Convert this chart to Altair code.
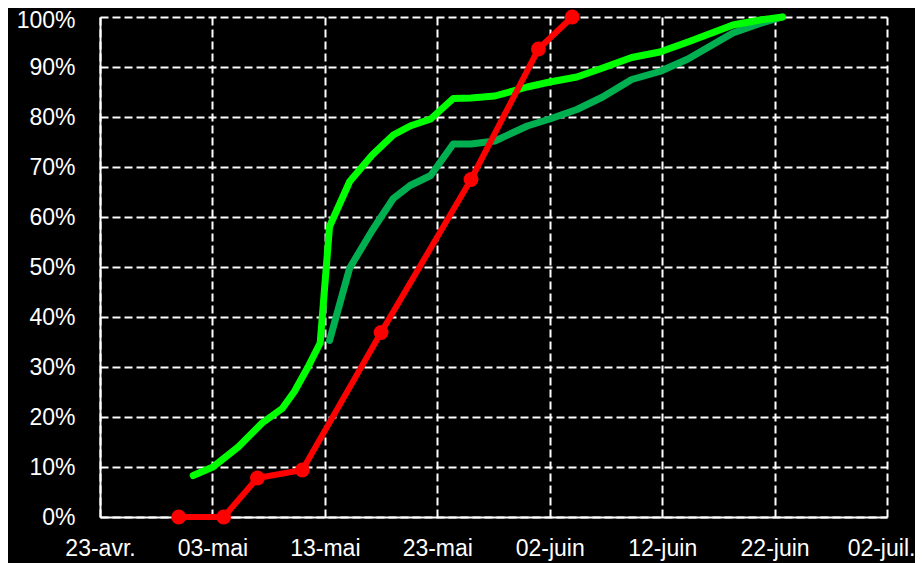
import altair as alt
import pandas as pd

# Red series (with markers)
red_dates = ["2020-04-30T00:00", "2020-05-04T00:00", "2020-05-07T00:00", "2020-05-11T00:00",
             "2020-05-18T00:00", "2020-05-26T00:00", "2020-06-01T00:00", "2020-06-04T00:00"]
red_values = [0, 0, 7.8, 9.4, 36.9, 67.5, 93.6, 100]

# Bright green series
bright_dates = ["2020-05-01T07:00", "2020-05-03T01:00", "2020-05-05T07:00", "2020-05-07T10:00",
                "2020-05-09T05:00", "2020-05-10T07:00", "2020-05-11T12:00", "2020-05-12T14:00",
                "2020-05-13T10:00", "2020-05-15T05:00", "2020-05-17T05:00", "2020-05-19T02:00",
                "2020-05-20T14:00", "2020-05-22T10:00", "2020-05-24T10:00", "2020-05-26T00:00",
                "2020-05-28T03:00", "2020-05-31T00:00", "2020-06-02T00:00", "2020-06-04T10:00",
                "2020-06-06T17:00", "2020-06-09T07:00", "2020-06-11T19:00", "2020-06-14T07:00",
                "2020-06-18T07:00", "2020-06-20T17:00", "2020-06-22T17:00"]
bright_values = [8.3, 10.0, 14.0, 18.8, 21.7, 25.1, 30.0, 34.8,
                 58.1, 67.1, 72.4, 76.4, 78.2, 79.6, 83.7, 83.8,
                 84.2, 86.0, 87.0, 88.0, 89.8, 91.9, 93.0, 95.0,
                 98.4, 99.4, 100.0]

# Dark green series
dark_dates = ["2020-05-13T10:00", "2020-05-15T05:00", "2020-05-17T05:00", "2020-05-19T02:00",
              "2020-05-20T14:00", "2020-05-22T10:00", "2020-05-24T10:00", "2020-05-26T00:00",
              "2020-05-28T03:00", "2020-05-31T00:00", "2020-06-02T00:00", "2020-06-04T10:00",
              "2020-06-06T17:00", "2020-06-09T07:00", "2020-06-11T19:00", "2020-06-14T07:00",
              "2020-06-18T07:00", "2020-06-20T17:00", "2020-06-22T17:00"]
dark_values = [35.3, 49.8, 57.3, 63.7, 66.3, 68.3, 74.6, 74.6,
               75.2, 78.2, 79.6, 81.5, 84.0, 87.5, 89.1, 91.6,
               96.8, 98.7, 100.0]

y_ticks = [0, 10, 20, 30, 40, 50, 60, 70, 80, 90, 100]
month_names = ["janv.", "févr.", "mars", "avr.", "mai", "juin", "juil.", "août",
               "sept.", "oct.", "nov.", "déc."]

red_df = pd.DataFrame({"date": red_dates, "value": red_values})
bright_df = pd.DataFrame({"date": bright_dates, "value": bright_values})
dark_df = pd.DataFrame({"date": dark_dates, "value": dark_values})

x_ticks = [alt.DateTime(year=2020, month=m, date=d) for m, d in
           [(4, 23), (5, 3), (5, 13), (5, 23), (6, 2), (6, 12), (6, 22), (7, 2)]]

months_js = "[" + ",".join("'" + m + "'" for m in month_names) + "]"

x_enc = alt.X(
    "date:T",
    scale=alt.Scale(domain=[x_ticks[0], x_ticks[-1]]),
    axis=alt.Axis(
        values=x_ticks,
        labelExpr="timeFormat(datum.value, '%d') + '-' + " + months_js + "[month(datum.value)]",
        title=None,
        ticks=False,
        labelPadding=20,
        labelFlush=False,
        labelOffset={"condition": {"test": "month(datum.value) == 6", "value": -6}, "value": 0},
        grid=True,
    ),
)
y_enc = alt.Y(
    "value:Q",
    scale=alt.Scale(domain=[0, 100], nice=False),
    axis=alt.Axis(
        values=y_ticks,
        labelExpr="datum.value + '%'",
        title=None,
        ticks=False,
        labelPadding=25,
        labelFlush=False,
        labelOffset={"condition": {"test": "datum.value == 100", "value": 3}, "value": 0},
        grid=True,
    ),
)

dark = alt.Chart(dark_df).mark_line(color="#00b050", strokeWidth=7, strokeCap="round",
                                     strokeJoin="round").encode(x=x_enc, y=y_enc)
bright = alt.Chart(bright_df).mark_line(color="#00ff00", strokeWidth=7, strokeCap="round",
                                         strokeJoin="round").encode(x=x_enc, y=y_enc)
red = alt.Chart(red_df).mark_line(color="#ff0000", strokeWidth=6, strokeCap="round",
                                   strokeJoin="round",
                                   point=alt.OverlayMarkDef(color="#ff0000", size=220, filled=True, opacity=1)
                                   ).encode(x=x_enc, y=y_enc)

chart = alt.layer(dark, bright, red).properties(
    width=787,
    height=500,
    background="#000000",
    autosize=alt.AutoSizeParams(type="none"),
    padding={"left": 92, "top": 9, "right": 28, "bottom": 46},
).configure_view(
    stroke=None,
    fill="#000000",
).configure_axis(
    labelFont="Liberation Sans",
    labelFontSize=23,
    labelColor="#ffffff",
    domainColor="#ffffff",
    domainWidth=2,
    gridColor="#ffffff",
    gridWidth=2,
    gridDash=[8, 4],
    gridOpacity=1,
    labelOverlap=False,
)

chart.save("out.html", embed_options={"renderer": "svg", "actions": False})
